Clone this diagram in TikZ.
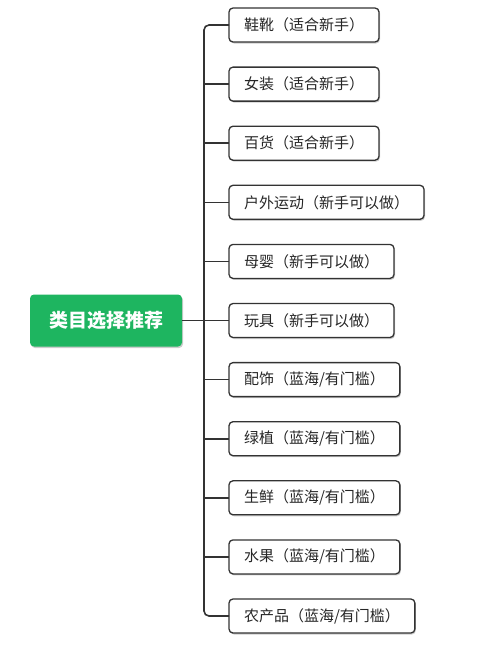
\documentclass[tikz,border=0pt]{standalone}
\usepackage{fontspec}
\setmainfont{Noto Sans CJK SC}
\usetikzlibrary{positioning,shadows}
\definecolor{rootgreen}{RGB}{30,181,96}
\definecolor{edgegray}{RGB}{51,51,51}

\begin{document}
\begin{tikzpicture}
  [x=1pt,y=1pt,
  category/.style={
    rectangle,
    draw=edgegray,
    line width=1.3pt,
    rounded corners=4pt,
    fill=white,
    text=black!85,
    font=\fontsize{15pt}{18pt}\selectfont,
    minimum height=34pt,
    inner xsep=15pt,
    inner ysep=0pt,
    outer sep=0pt,
    drop shadow={shadow xshift=1pt, shadow yshift=-1.5pt, fill=black, opacity=.2}
    },
  rootbox/.style={
    rectangle,
    fill=rootgreen,
    rounded corners=4pt,
    text=white,
    font=\fontsize{19pt}{22pt}\selectfont\bfseries,
    minimum height=52pt,
    inner xsep=19pt,
    inner ysep=0pt,
    outer sep=0pt,
    drop shadow={shadow xshift=1pt, shadow yshift=-1.5pt, fill=black, opacity=.2}
    },
  link/.style={draw=edgegray, line width=1.6pt, rounded corners=5pt}
  ]
  \useasboundingbox (0,0) rectangle (500,-645);

  \node [category, anchor=west] (xiexue) at (229,-25) {鞋靴（适合新手）};
  \node [category, below=25.1pt of xiexue.south west, anchor=north west] (nvzhuang) {女装（适合新手）};
  \node [category, below=25.1pt of nvzhuang.south west, anchor=north west] (baihuo) {百货（适合新手）};
  \node [category, below=25.1pt of baihuo.south west, anchor=north west] (huwai) {户外运动（新手可以做）};
  \node [category, below=25.1pt of huwai.south west, anchor=north west] (muying) {母婴（新手可以做）};
  \node [category, below=25.1pt of muying.south west, anchor=north west] (wanju) {玩具（新手可以做）};
  \node [category, below=25.1pt of wanju.south west, anchor=north west] (peishi) {配饰（蓝海/有门槛）};
  \node [category, below=25.1pt of peishi.south west, anchor=north west] (lvzhi) {绿植（蓝海/有门槛）};
  \node [category, below=25.1pt of lvzhi.south west, anchor=north west] (shengxian) {生鲜（蓝海/有门槛）};
  \node [category, below=25.1pt of shengxian.south west, anchor=north west] (shuiguo) {水果（蓝海/有门槛）};
  \node [category, below=25.1pt of shuiguo.south west, anchor=north west] (nongchanpin) {农产品（蓝海/有门槛）};

  \node [rootbox, left=47pt of wanju.west, anchor=east] (leimu) {类目选择推荐};

  \draw[link] (xiexue.west) -- ++(-25pt,0) |- (nongchanpin.west);
  \foreach \cat in {nvzhuang,baihuo,huwai,muying,peishi,lvzhi,shengxian,shuiguo}
    \draw[link] (\cat.west) -- ++(-25pt,0);
  \draw[link] (leimu.east) -- (wanju.west);
\end{tikzpicture}
\end{document}
